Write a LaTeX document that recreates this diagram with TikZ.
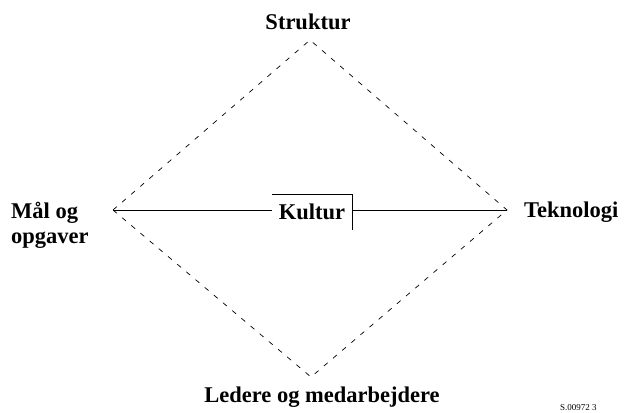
\documentclass[tikz,border=0pt]{standalone}
\usepackage{fontspec}
\setmainfont{Liberation Serif}
\begin{document}
\begin{tikzpicture}[x=1pt,y=-1pt,
  lbl/.style={font=\fontsize{22.5}{25}\selectfont\bfseries, inner sep=0pt},
  dia/.style={dash pattern=on 5pt off 7pt, line width=0.7pt},
  solidline/.style={line width=0.9pt}]
\useasboundingbox (0,0) rectangle (631,412);
\fill[white] (0,0) rectangle (631,412);
% vertices
\coordinate (T) at (310,40);
\coordinate (L) at (113,210);
\coordinate (R) at (507,210);
\coordinate (B) at (311,377);
% labels
\node[lbl] (struktur) at (308,22) {Struktur};
\node[lbl, align=left, anchor=west] (maal) at (11,225) {Mål og\\opgaver};
\node[lbl, anchor=west] (tekno) at (524,212) {Teknologi};
\node[lbl] (leder) at (322,397) {Ledere og medarbejdere};
\node[font=\fontsize{9}{10}\selectfont, anchor=west, inner sep=0pt] (code) at (560,408) {S.00972 3};
% kultur box
\node[lbl, minimum width=80pt, minimum height=36pt] (kultur) at (312,212) {Kultur};
\coordinate (kl) at (272,210);
\coordinate (kr) at (352,210);
\draw[line width=0.8pt] (272,194) -- (352,194) -- (352,230);
% diamond
\draw[dia] (L) -- (T) -- (R) -- (B) -- cycle;
% horizontal
\draw[solidline] (L) -- (kl);
\draw[solidline] (kr) -- (R);
\end{tikzpicture}
\end{document}
